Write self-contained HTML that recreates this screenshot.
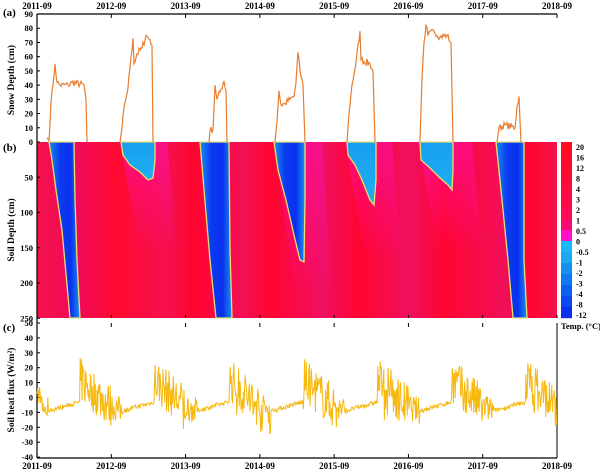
<!DOCTYPE html>
<html><head><meta charset="utf-8"><style>
body{margin:0;background:#fff;}
svg{display:block;font-family:"Liberation Serif",serif;font-weight:bold;}
</style></head><body>
<svg id="s" width="600" height="473" viewBox="0 0 600 473" xmlns="http://www.w3.org/2000/svg">
<defs>
<linearGradient id="bg" x1="0" x2="1" y1="0" y2="0">
<stop offset="0" stop-color="#f4124a"/><stop offset="0.08" stop-color="#f00a5a"/><stop offset="0.15" stop-color="#ff0a30"/>
<stop offset="0.25" stop-color="#f51050"/><stop offset="0.3" stop-color="#ff0530"/><stop offset="0.4" stop-color="#f31055"/>
<stop offset="0.45" stop-color="#ff0530"/><stop offset="0.55" stop-color="#f01060"/><stop offset="0.62" stop-color="#ff0530"/>
<stop offset="0.72" stop-color="#f01060"/><stop offset="0.78" stop-color="#ff0530"/><stop offset="0.9" stop-color="#f0105a"/>
<stop offset="0.95" stop-color="#ff0530"/><stop offset="1" stop-color="#f5124a"/>
</linearGradient>
<linearGradient id="bl" x1="0" x2="1"><stop offset="0" stop-color="#1a8ef0"/><stop offset="0.35" stop-color="#0a3cf0"/><stop offset="0.7" stop-color="#0a30ee"/><stop offset="1" stop-color="#1a8ef0"/></linearGradient>
<linearGradient id="bl2" x1="0" y1="0" x2="0" y2="1"><stop offset="0" stop-color="#1a9ef0"/><stop offset="1" stop-color="#1ab0f0"/></linearGradient>
<linearGradient id="mg" x1="0" y1="0" x2="0" y2="1"><stop offset="0" stop-color="#ff10c0" stop-opacity="0.7"/><stop offset="1" stop-color="#ff10c0" stop-opacity="0"/></linearGradient>
</defs>
<g id="g"></g>
</svg>
<script>
const S=document.getElementById('g');let h='';
const X0=37,X1=557,YR=(X1-X0)/7;
h+=`<rect x="${X0}" y="142" width="${X1-X0}" height="176" fill="url(#bg)"/>`;
[[120,155,250],[275,310,300],[345,380,260],[418,460,250]].forEach(([a,b,d])=>{h+=`<polygon points="${a},142 ${b+12},142 ${b+22},${d} ${a+20},${d}" fill="url(#mg)" opacity="0.7"/>`;});
const fr=[
"49,142 52,160 56,190 62,230 70,318 80,318 77,260 75,200 74,142",
"121,142 123,155 130,165 140,172 148,180 153,178 155,160 155,142",
"200,142 204,190 210,260 216,318 232,318 230,250 229,142",
"274,142 278,170 286,200 294,235 300,260 304,262 305,200 305,142",
"347,142 348,155 355,165 362,180 370,200 374,205 376,180 376,142",
"420,142 421,160 430,168 440,178 448,185 452,190 453,170 453,142",
"496,142 502,200 508,260 513,318 527,318 524,260 524,142"];
fr.forEach((p,i)=>{const full=(i==0||i==2||i==6);h+=`<polygon points="${p}" fill="${full||i==3?'url(#bl)':'url(#bl2)'}" stroke="#e8e070" stroke-width="1.3"/>`;});
const cc=["#ff0a20","#ff0a28","#ff0a30","#ff0a38","#ff0a40","#ff0a48","#ff0a55","#f80a70","#ff10c8","#1ab8f8","#1aa8f0","#1490f0","#1078f0","#0a60f0","#0a48f0","#0a30f0"];
const lab=["20","16","12","8","4","3","2","1","0.5","0","-0.5","-1","-2","-3","-4","-8","-12"];
for(let i=0;i<16;i++)h+=`<rect x="561" y="${142+i*11}" width="11" height="11.2" fill="${cc[i]}"/>`;
lab.forEach((l,i)=>h+=`<text x="576" y="${150+i*10.5}" font-size="8">${l}</text>`);
h+=`<text x="561" y="329" font-size="8.5">Temp. (°C)</text>`;
h+=`<line x1="${X0}" y1="14" x2="${X0}" y2="458" stroke="#000" stroke-width="1.2"/><line x1="${X1}" y1="323" x2="${X1}" y2="458" stroke="#000"/>`;
h+=`<line x1="${X0}" y1="14" x2="${X1}" y2="14" stroke="#000" stroke-width="1.2"/><line x1="${X0}" y1="458" x2="${X1}" y2="458" stroke="#000" stroke-width="1.2"/>`;
const yrs=["2011-09","2012-09","2013-09","2014-09","2015-09","2016-09","2017-09","2018-09"];
yrs.forEach((y,i)=>{const x=X0+i*YR;h+=`<line x1="${x}" y1="14" x2="${x}" y2="18" stroke="#000"/><line x1="${x}" y1="458" x2="${x}" y2="454" stroke="#000"/><line x1="${x}" y1="323" x2="${x}" y2="327" stroke="#000"/><line x1="${x}" y1="318" x2="${x}" y2="315" stroke="#000"/>`;
h+=`<text x="${x}" y="9" font-size="9" text-anchor="middle">${y}</text><text x="${x}" y="469" font-size="9" text-anchor="middle">${y}</text>`;});
for(let v=0;v<=90;v+=10){const y=142-v*1.422;h+=`<line x1="${X0}" y1="${y}" x2="${X0+3}" y2="${y}" stroke="#000"/><text x="${X0-4}" y="${y+3}" font-size="8.5" text-anchor="end">${v}</text>`;}
for(let v=50;v<=250;v+=50){const y=142+v*0.705;h+=`<line x1="${X0}" y1="${y}" x2="${X0+3}" y2="${y}" stroke="#000"/><text x="${X0-4}" y="${y+3}" font-size="8.5" text-anchor="end">${v}</text>`;}
for(let v=-40;v<=50;v+=10){const y=323+(50-v)*1.49;h+=`<line x1="${X0}" y1="${y}" x2="${X0+3}" y2="${y}" stroke="#000"/><text x="${X0-4}" y="${y+3}" font-size="8.5" text-anchor="end">${v}</text>`;}
h+=`<text x="3" y="16" font-size="11">(a)</text><text x="3" y="151" font-size="11">(b)</text><text x="3" y="331" font-size="11">(c)</text>`;
h+=`<text transform="translate(14,80) rotate(-90)" font-size="9.5" text-anchor="middle">Snow Depth (cm)</text>`;
h+=`<text transform="translate(14,230) rotate(-90)" font-size="9.5" text-anchor="middle">Soil Depth (cm)</text>`;
h+=`<text transform="translate(14,390) rotate(-90)" font-size="9.5" text-anchor="middle">Soil heat flux (W/m²)</text>`;
let seed=7;const rnd=()=>{seed=(seed*16807)%2147483647;return seed/2147483647;};
const snow=[[[47,3],[49,1],[51,28],[53,40],[55,55],[57,42],[60,40],[68,40],[72,42],[84,40],[86,30],[87,0]],
[[120,0],[122,10],[125,28],[128,38],[131,60],[133,73],[134,55],[137,62],[142,66],[146,75],[150,72],[152,68],[153,0]],
[[209,0],[210,8],[213,9],[215,40],[217,30],[220,35],[224,43],[226,36],[227,0]],
[[275,0],[277,15],[279,36],[281,26],[285,27],[290,30],[294,32],[296,42],[298,63],[300,50],[303,40],[305,0]],
[[347,0],[349,20],[352,40],[356,56],[360,78],[361,58],[370,55],[373,50],[375,0]],
[[420,0],[422,45],[424,70],[426,82],[428,75],[434,78],[440,74],[447,75],[451,70],[453,0]],
[[497,0],[499,10],[505,12],[515,10],[517,25],[519,32],[520,15],[521,0]]];
snow.forEach(pts=>{let d='';let last=null;pts.forEach((p,i)=>{if(last&&i<pts.length-1&&i>1){for(let x=last[0]+1;x<p[0];x+=1){const f=(x-last[0])/(p[0]-last[0]);const v=last[1]+(p[1]-last[1])*f+(rnd()-0.5)*5;d+='L'+x+','+(142-Math.max(0,v)*1.422).toFixed(1);}}
d+=(i?'L':'M')+p[0]+','+(142-p[1]*1.422).toFixed(1);last=p;});h+=`<path d="${d}" fill="none" stroke="#e87d2f" stroke-width="1.2"/>`;});
let d='';for(let x=X0;x<=X1;x+=0.6){const t=(x-X0)/YR;const p=t-Math.floor(t);let m,a;
if(p>=0.58){m=12-18*(p-0.58)/0.42;a=15;}else if(p<0.15){m=-6-p*20;a=9;}else{m=-9+6*(p-0.15)/0.43;a=1.5;}
if(t<0.05){m=2;a=6;}
let r=rnd();let v=m+(r-0.5)*2*a;if(rnd()<0.04&&a>5)v-=10;d+=(x==X0?'M':'L')+x.toFixed(1)+','+(323+(50-v)*1.49).toFixed(1);}
h+=`<path d="${d}" fill="none" stroke="#f7b90f" stroke-width="1"/>`;
S.innerHTML=h;
</script>
</body></html>
